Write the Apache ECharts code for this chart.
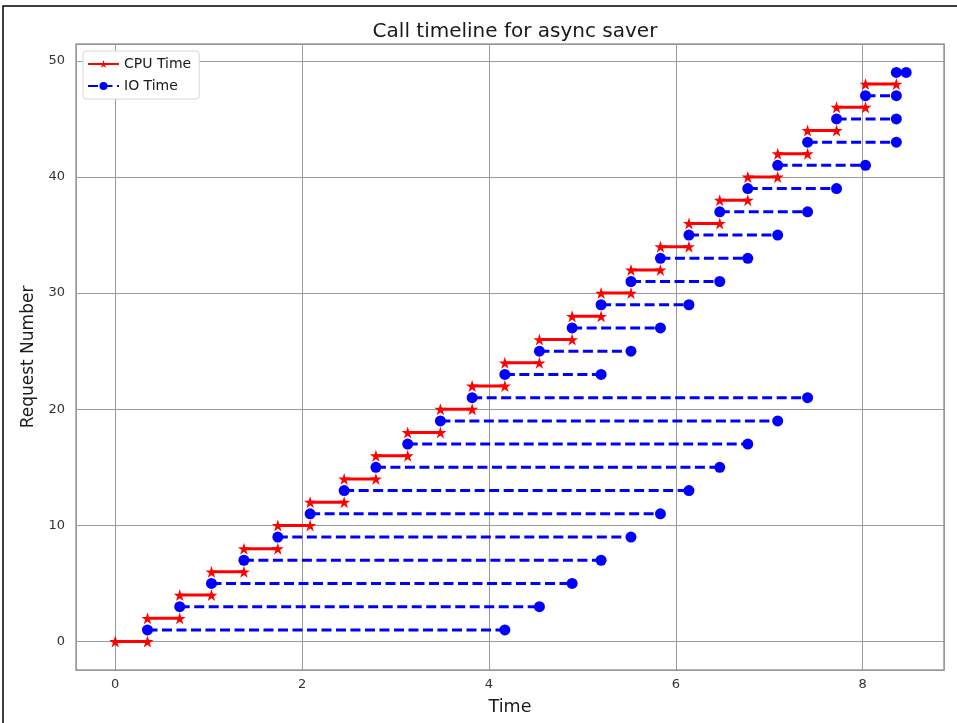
<!DOCTYPE html>
<html><head><meta charset="utf-8">
<script src="https://cdn.jsdelivr.net/npm/echarts@6/dist/echarts.min.js"></script>
<style>html,body{margin:0;padding:0;background:#fff}#c{width:957px;height:723px}</style>
</head><body><div id="c"></div>
<script>
// CPU boundary times: CPU request cpuRequests[k] runs from cpuTimes[k] to cpuTimes[k+1]
const cpuTimes = [0, 0.345, 0.69, 1.03, 1.377, 1.74, 2.086, 2.45, 2.79, 3.13, 3.48, 3.82, 4.17,
  4.54, 4.89, 5.2, 5.52, 5.835, 6.14, 6.47, 6.77, 7.09, 7.41, 7.72, 8.03, 8.36];
const cpuRequests = [0, 2, 4, 6, 8, 10, 12, 14, 16, 18, 20, 22, 24, 26, 28, 30, 32, 34, 36, 38, 40, 42, 44, 46, 48];
// IO request ioRequests[k] runs from cpuTimes[k+1] to ioEndTimes[k]
const ioRequests = [1, 3, 5, 7, 9, 11, 13, 15, 17, 19, 21, 23, 25, 27, 29, 31, 33, 35, 37, 39, 41, 43, 45, 47, 49];
const ioEndTimes = [4.17, 4.54, 4.89, 5.2, 5.52, 5.835, 6.14, 6.47, 6.77, 7.09, 7.41,
  5.2, 5.52, 5.835, 6.14, 6.47, 6.77, 7.09, 7.41, 7.72, 8.03, 8.36, 8.36, 8.36, 8.465];

const STAR = 'path://M50,0 L61.2,34.5 L97.6,34.5 L68.2,55.9 L79.4,90.5 L50,69.1 L20.6,90.5 L31.8,55.9 L2.4,34.5 L38.8,34.5 Z';
const FONT = 'DejaVu Sans';

const series = [];
for (let k = 0; k < cpuRequests.length; k++) {
  series.push({
    name: 'CPU Time', type: 'line', z: 3,
    data: [[cpuTimes[k], cpuRequests[k]], [cpuTimes[k + 1], cpuRequests[k]]],
    symbol: STAR, symbolSize: 12, showAllSymbol: true,
    itemStyle: { color: '#ff0000' },
    lineStyle: { color: '#ff0000', width: 3 },
    animation: false, silent: true
  });
  series.push({
    name: 'IO Time', type: 'line', z: 3,
    data: [[cpuTimes[k + 1], ioRequests[k]], [ioEndTimes[k], ioRequests[k]]],
    symbol: 'circle', symbolSize: 11, showAllSymbol: true,
    itemStyle: { color: '#0000ff' },
    lineStyle: { color: '#0000ff', width: 3, type: [10, 4.5] },
    animation: false, silent: true
  });
}

const chart = echarts.init(document.getElementById('c'), null, { renderer: 'canvas' });
chart.setOption({
  animation: false,
  backgroundColor: '#ffffff',
  title: {
    text: 'Call timeline for async saver', left: 510, top: 17, textAlign: 'center',
    textStyle: { fontFamily: FONT, fontSize: 20, fontWeight: 'normal', color: '#1a1a1a' }
  },
  legend: {
    orient: 'vertical', left: 83, top: 51,
    data: ['CPU Time', 'IO Time'],
    itemWidth: 31, itemHeight: 10, itemGap: 8,
    padding: [6, 8, 6, 4],
    backgroundColor: '#ffffff', borderColor: '#d6d6d6', borderWidth: 1, borderRadius: 3,
    textStyle: { fontFamily: FONT, fontSize: 14, color: '#1a1a1a' }
  },
  grid: { left: 76, right: 13, top: 44, bottom: 53, show: true, borderColor: '#9a9a9a', borderWidth: 1.5, containLabel: false },
  xAxis: {
    type: 'value', min: -0.42, max: 8.87, splitNumber: 5,
    name: 'Time', nameLocation: 'middle', nameGap: 28,
    nameTextStyle: { fontFamily: FONT, fontSize: 17.5, color: '#1a1a1a' },
    axisLine: { show: false }, axisTick: { show: false },
    axisLabel: { fontFamily: FONT, fontSize: 13, color: '#333', margin: 8, showMinLabel: false, showMaxLabel: false },
    splitLine: { show: true, lineStyle: { color: '#999', width: 1 } }
  },
  yAxis: {
    type: 'value', min: -2.45, max: 51.45, splitNumber: 5,
    name: 'Request Number', nameLocation: 'middle', nameGap: 35,
    nameTextStyle: { fontFamily: FONT, fontSize: 17, color: '#1a1a1a' },
    axisLine: { show: false }, axisTick: { show: false },
    axisLabel: { fontFamily: FONT, fontSize: 13, color: '#333', margin: 11, showMinLabel: false, showMaxLabel: false },
    splitLine: { show: true, lineStyle: { color: '#999', width: 1 } }
  },
  graphic: [
    { type: 'polyline', shape: { points: [[3, 723], [3, 6], [957, 6]] }, style: { stroke: '#000', lineWidth: 1.5, fill: null }, silent: true }
  ],
  series: series
});
</script></body></html>
